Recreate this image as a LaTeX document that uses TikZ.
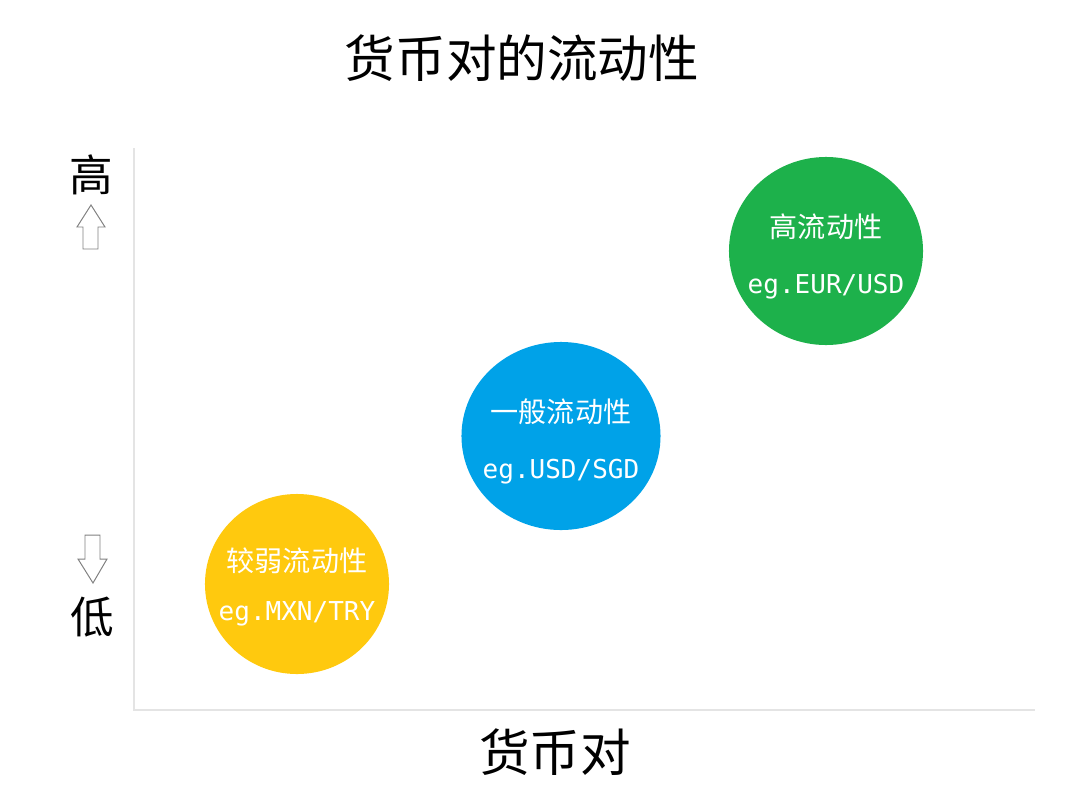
\documentclass[tikz,border=0pt]{standalone}
\usepackage{fontspec}
\newfontfamily\cjk{Noto Sans CJK SC}
\newfontfamily\monof{DejaVu Sans Mono}
\usepackage{tikz}
\usetikzlibrary{positioning}
\usetikzlibrary{shapes.geometric}
\definecolor{hiGreen}{RGB}{29,177,75}
\definecolor{midBlue}{RGB}{0,162,232}
\definecolor{loYellow}{RGB}{255,201,14}
\definecolor{axisGray}{RGB}{228,228,228}
\tikzstyle{axis} = [line width=2pt,draw=axisGray]
\tikzstyle{pair} = [ellipse,draw=none,inner sep=0pt]
\tikzstyle{pairtext} = [text=white,align=center,inner sep=0pt,yshift=-0.13cm,font=\cjk\fontsize{20}{40}\selectfont]
\tikzstyle{hollow} = [draw=gray,fill=white,line width=0.7pt,line join=miter]
\tikzstyle{side} = [font=\cjk\fontsize{31}{31}\selectfont,inner sep=0pt]

\begin{document}
\begin{tikzpicture}[x=0.025cm,y=-0.025cm]
						\useasboundingbox (0,0) rectangle (1080,810);
						%Nodes
						\node [font=\cjk\fontsize{36}{36}\selectfont] (title) at (522,58) {货币对的流动性};
						
						\coordinate (orig) at (134,710);
						\coordinate (ytop) at (134,148);
						\coordinate (xend) at (1035,710);
						
						\node [font=\cjk\fontsize{36}{36}\selectfont] (xlabel) at (555,752) {货币对};
						
						\node [side] (high) at (91,175) {高};
						\coordinate (uptip) at (91,205);
						\node [side] (low) at (92,617) {低};
						\coordinate (downtip) at (93,583);
						
						%Lines
						\draw[axis] (ytop) -- (orig) -- (xend);
						\draw[hollow] (uptip) -- ++(14,22) -- ++(-7,0) -- ++(0,22) -- ++(-15,0) -- ++(0,-22) -- ++(-6,0) -- cycle;
						\draw[hollow] (downtip) -- ++(14,-24) -- ++(-7,0) -- ++(0,-24) -- ++(-15,0) -- ++(0,24) -- ++(-7,0) -- cycle;
						
						\node [pair,fill=hiGreen,minimum width=4.85cm,minimum height=4.7cm] (hiliq) at (826,251) {};
						\node [pair,fill=midBlue,minimum width=4.975cm,minimum height=4.7cm] (midliq) at (561,436) {};
						\node [pair,fill=loYellow,minimum width=4.6cm,minimum height=4.5cm] (loliq) at (297,584) {};
						
						\node [pairtext] (hitext) at (hiliq) {高流动性\\{\monof\fontsize{18.5}{40}\selectfont eg.EUR/USD}};
						\node [pairtext] (midtext) at (midliq) {一般流动性\\{\monof\fontsize{18.5}{40}\selectfont eg.USD/SGD}};
						\node [pairtext,yshift=0.06cm,font=\cjk\fontsize{20}{35}\selectfont] (lotext) at (loliq) {较弱流动性\\{\monof\fontsize{18.5}{35}\selectfont eg.MXN/TRY}};
					\end{tikzpicture}
\end{document}
